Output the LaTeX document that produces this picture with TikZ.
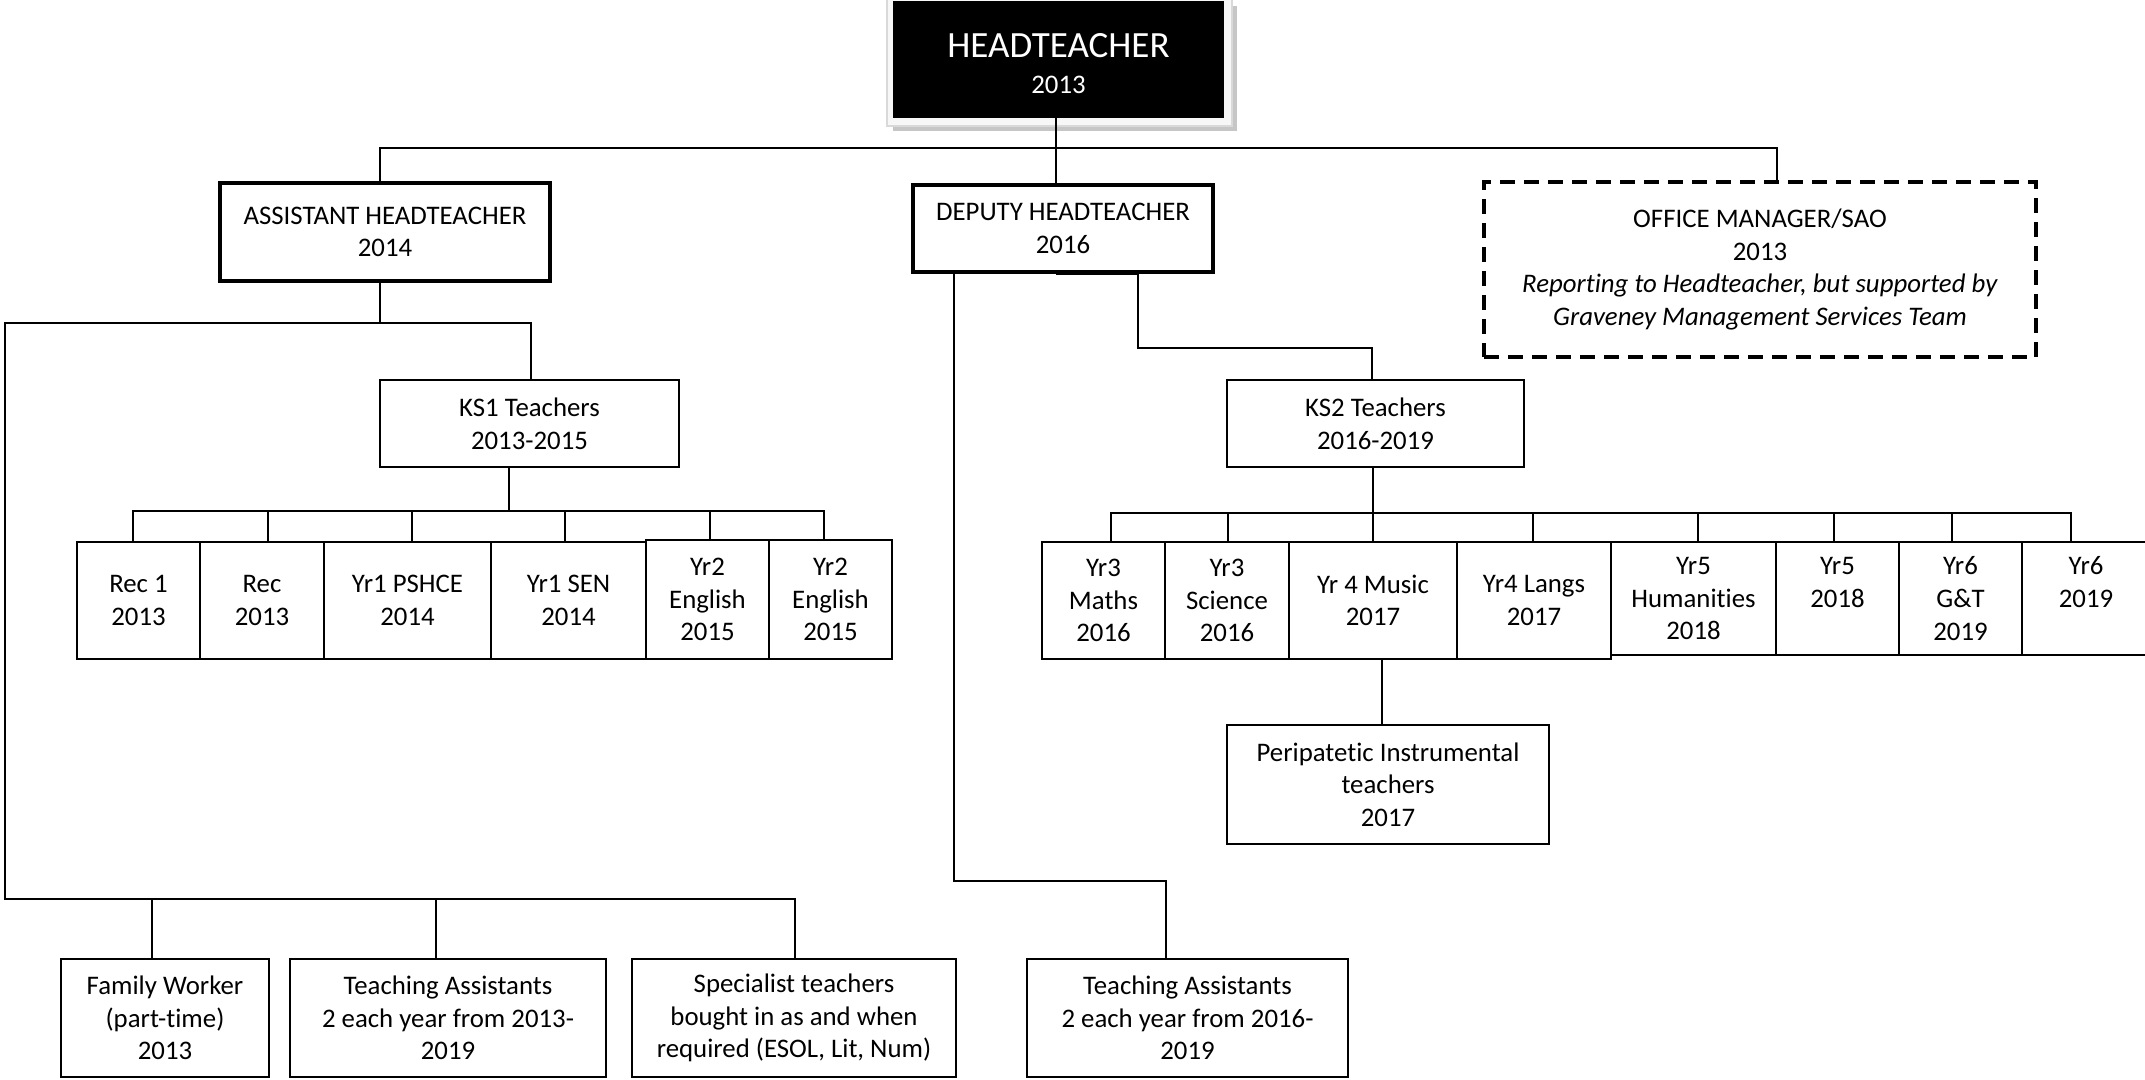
\documentclass[tikz,border=0pt]{standalone}
\usepackage{fontspec}
\setmainfont{Carlito}[Ligatures=NoCommon]
\begin{document}
\begin{tikzpicture}[x=0.5pt,y=-0.5pt]
\tikzset{
  box/.style={draw, line width=1pt, rectangle, inner sep=0pt, align=center, font=\fontsize{13.4}{16.3}\selectfont},
  thickbox/.style={box, line width=1.8pt},
  dashbox/.style={box, line width=1.8pt, dash pattern=on 7.5pt off 4.5pt},
  conn/.style={line width=0.9pt},
}
\useasboundingbox (0,0) rectangle (2145,1080);
\clip (0,0) rectangle (2145,1080);

% headteacher frame
\fill[gray!45] (893,6) rectangle (1237,131);
\filldraw[fill=gray!6, draw=gray!30, line width=0.6pt] (887,-3) rectangle (1232,126);
\node[box, draw=black, fill=black, text=white, minimum width=164.5pt, minimum height=57.5pt] (HT) at (1058.5,59.5)
  {{\fontsize{18.5}{20}\selectfont\rule{0pt}{16pt}HEADTEACHER}\\[1.5pt]{\fontsize{13.4}{16}\selectfont 2013}};

% level 1
\node[thickbox, minimum width=165pt, minimum height=49pt] (AHT) at (385,232) {ASSISTANT HEADTEACHER\\2014};
\node[thickbox, minimum width=150pt, minimum height=43.5pt] (DHT) at (1063,228.5) {DEPUTY HEADTEACHER\\2016};
\node[dashbox, minimum width=276pt, minimum height=87.5pt] (OM) at (1760,269.5)
  {OFFICE MANAGER/SAO\\2013\\\textit{Reporting to Headteacher, but supported by}\\\textit{Graveney Management Services Team}};

% level 2
\node[box, minimum width=149.5pt, minimum height=43.5pt] (KS1) at (529.5,423.5) {KS1 Teachers\\2013-2015};
\node[box, minimum width=148.5pt, minimum height=43.5pt] (KS2) at (1375.5,423.5) {KS2 Teachers\\2016-2019};

% KS1 children
\node[box, minimum width=61.5pt, minimum height=58.5pt] (R1) at (138.5,600.5) {Rec 1\\2013};
\node[box, minimum width=62pt, minimum height=58.5pt] (R2) at (262,600.5) {Rec\\2013};
\node[box, minimum width=83.5pt, minimum height=58.5pt] (Y1P) at (407.5,600.5) {Yr1 PSHCE\\2014};
\node[box, minimum width=77.5pt, minimum height=58.5pt] (Y1S) at (568.5,600.5) {Yr1 SEN\\2014};
\node[box, minimum width=61.5pt, minimum height=59.5pt] (Y2a) at (707.5,599.5) {Yr2\\English\\2015};
\node[box, minimum width=61.5pt, minimum height=59.5pt] (Y2b) at (830.5,599.5) {Yr2\\English\\2015};

% KS2 children
\node[box, minimum width=61.5pt, minimum height=58.5pt] (Y3M) at (1103.5,600.5) {Yr3\\Maths\\2016};
\node[box, minimum width=62pt, minimum height=58.5pt] (Y3S) at (1227,600.5) {Yr3\\Science\\2016};
\node[box, minimum width=84pt, minimum height=58.5pt] (Y4M) at (1373,600.5) {Yr 4 Music\\2017};
\node[box, minimum width=77pt, minimum height=58.5pt] (Y4L) at (1534,600.5) {Yr4 Langs\\2017};
\node[box, minimum width=82.5pt, minimum height=56.5pt] (Y5H) at (1693.5,598.5) {Yr5\\Humanities\\2018};
\node[box, minimum width=61.5pt, minimum height=56.5pt] (Y5) at (1837.5,598.5) {Yr5\\2018\\\mbox{}};
\node[box, minimum width=61.5pt, minimum height=56.5pt] (Y6G) at (1960.5,598.5) {Yr6\\G\&T\\2019};
\node[box, minimum width=64pt, minimum height=56.5pt] (Y6) at (2086,598.5) {Yr6\\2019\\\mbox{}};

% peripatetic
\node[box, minimum width=161pt, minimum height=59.5pt] (PERI) at (1388,784.5) {Peripatetic Instrumental\\teachers\\2017};

% bottom row
\node[box, minimum width=104pt, minimum height=59pt] (FW) at (165,1018) {Family Worker\\(part-time)\\2013};
\node[box, minimum width=158pt, minimum height=59pt] (TA1) at (448,1018) {Teaching Assistants\\2 each year from 2013-\\2019};
\node[box, minimum width=162pt, minimum height=59pt] (SP) at (794,1018) {Specialist teachers\\bought in as and when\\required (ESOL, Lit, Num)};
\node[box, minimum width=160.5pt, minimum height=59pt] (TA2) at (1187.5,1018) {Teaching Assistants\\2 each year from 2016-\\2019};

% connectors from headteacher
\draw[conn] (HT.south -| 1056,0) -- (1056,148) -| (AHT.north -| 380,0);
\draw[conn] (1056,148) -- (DHT.north -| 1056,0);
\draw[conn] (1056,148) -| (OM.north -| 1777,0);

% assistant head
\draw[conn] (AHT.south -| 380,0) -- (380,323) -| (KS1.north -| 531,0);
\draw[conn] (380,323) -| (5,899) -| (SP.north -| 795,0);
\draw[conn] (FW.north -| 152,0) -- (152,899);
\draw[conn] (TA1.north -| 436,0) -- (436,899);

% KS1 children
\draw[conn] (KS1.south -| 509,0) -- (509,511);
\draw[conn] (R1.north -| 133,0) -- (133,511) -- (824,511) -- (Y2b.north -| 824,0);
\draw[conn] (R2.north -| 268,0) -- (268,511);
\draw[conn] (Y1P.north -| 412,0) -- (412,511);
\draw[conn] (Y1S.north -| 565,0) -- (565,511);
\draw[conn] (Y2a.north -| 710,0) -- (710,511);

% deputy head
\draw[conn] (DHT.south -| 954,0) -- (954,881) -| (TA2.north -| 1166,0);
\draw[conn] (DHT.south -| 1056,0) -| (1138,348) -| (KS2.north -| 1372,0);

% KS2 children
\draw[conn] (KS2.south -| 1373,0) -- (1373,513);
\draw[conn] (Y3M.north -| 1111,0) -- (1111,513) -- (2071,513) -- (Y6.north -| 2071,0);
\draw[conn] (Y3S.north -| 1228,0) -- (1228,513);
\draw[conn] (Y4M.north -| 1373,0) -- (1373,513);
\draw[conn] (Y4L.north -| 1533,0) -- (1533,513);
\draw[conn] (Y5H.north -| 1698,0) -- (1698,513);
\draw[conn] (Y5.north -| 1834,0) -- (1834,513);
\draw[conn] (Y6G.north -| 1952,0) -- (1952,513);

% music to peripatetic
\draw[conn] (Y4M.south -| 1382,0) -- (PERI.north -| 1382,0);
\end{tikzpicture}
\end{document}
